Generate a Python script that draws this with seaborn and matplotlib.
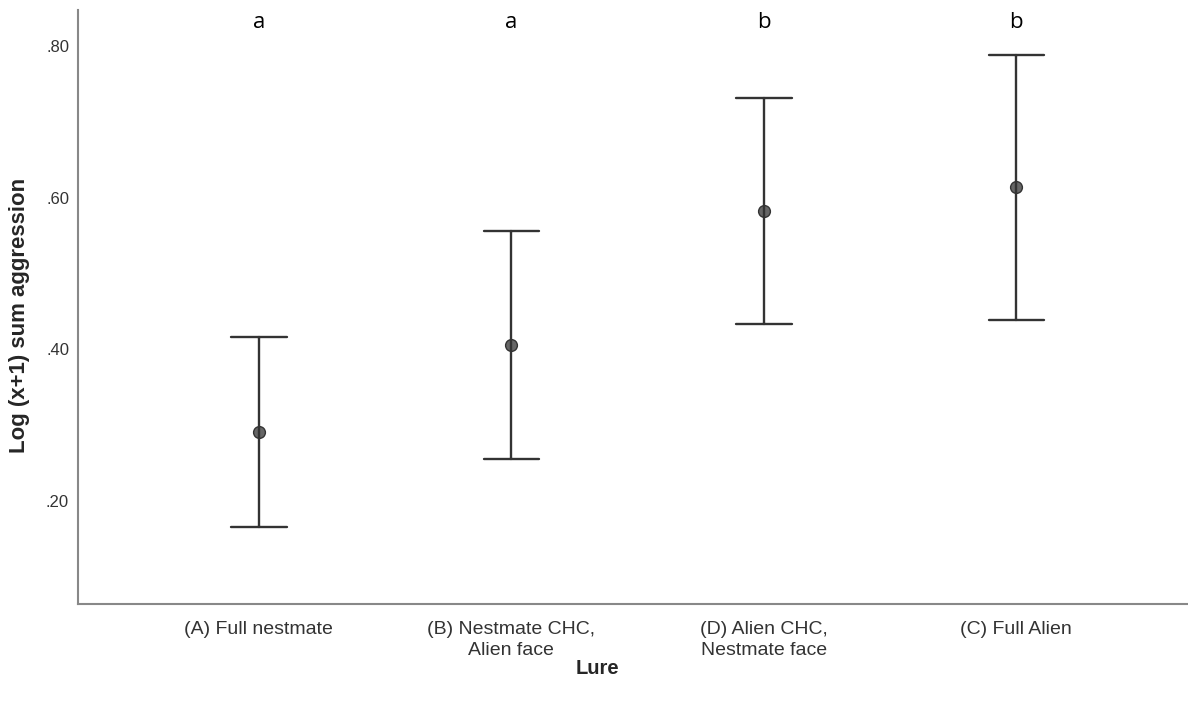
import pandas as pd
import numpy as np
import matplotlib.pyplot as plt
import seaborn as sns

sns.set_theme(style="white")
plt.rcParams['font.family'] = ['Liberation Sans', 'DejaVu Sans']

# Values
lures = ['(A) Full nestmate', '(B) Nestmate CHC,\nAlien face',
         '(D) Alien CHC,\nNestmate face', '(C) Full Alien']
means = [0.291, 0.406, 0.583, 0.614]
ci_low = [0.166, 0.255, 0.434, 0.439]
ci_high = [0.416, 0.556, 0.732, 0.788]
groups = ['a', 'a', 'b', 'b']

# long table: low / mean / high per lure -> median gives the mean, full range gives the CI
rows = []
for lure, lo, m, hi in zip(lures, ci_low, means, ci_high):
    for v in (lo, m, hi):
        rows.append({'Lure': lure, 'value': v})
df = pd.DataFrame(rows)

fig = plt.figure(figsize=(11.88, 7.09), dpi=100)
ax = fig.add_axes([0.0657, 0.148, 0.9343, 0.838])

sns.pointplot(data=df, x='Lure', y='value', order=lures,
              estimator='median', errorbar=('pi', 100),
              linestyle='none', capsize=0.22, color='#333333',
              err_kws={'linewidth': 1.7},
              marker='o', markersize=8.5, markerfacecolor='#666666',
              markeredgecolor='#333333', markeredgewidth=1.0, ax=ax)

ax.set_xlim(-0.716, 3.68)
ax.set_ylim(0.064, 0.848)
ax.set_yticks([0.2, 0.4, 0.6, 0.8])
ax.set_yticklabels(['.20', '.40', '.60', '.80'])
ax.tick_params(axis='both', length=0, colors='#333333')
ax.tick_params(axis='y', pad=6.5, labelsize=12)
ax.tick_params(axis='x', pad=12, labelsize=14)
for lbl in ax.get_xticklabels():
    lbl.set_linespacing(1.3)

for i, g in enumerate(groups):
    ax.text(i, 0.832, g, ha='center', va='center', fontsize=16,
            family=['Open Sans', 'DejaVu Sans'], color='black')

ax.set_xlabel('Lure', fontsize=14.5, fontweight='bold', va='center')
ax.xaxis.set_label_coords(0.468, -0.108)
ax.set_ylabel('Log (x+1) sum aggression', fontsize=16, fontweight='bold',
              va='center')
ax.yaxis.set_label_coords(-0.053, 0.485)

for side in ['top', 'right']:
    ax.spines[side].set_visible(False)
for side in ['left', 'bottom']:
    ax.spines[side].set_color('#888888')
    ax.spines[side].set_linewidth(1.5)

fig.savefig('out.png', dpi=100)
